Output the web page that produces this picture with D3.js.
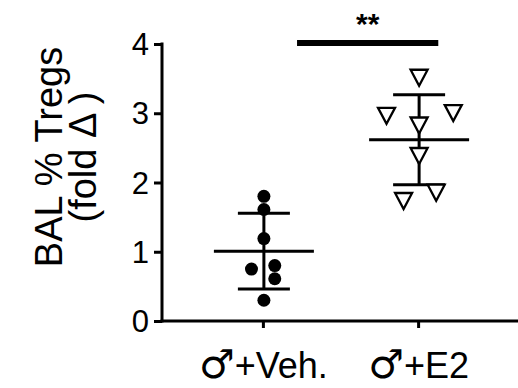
<!DOCTYPE html>
<html><head><meta charset="utf-8">
<script src="https://cdn.jsdelivr.net/npm/d3@7"></script>
<style>body{margin:0;background:#fff}svg{display:block}text{font-family:"Liberation Sans",Arial,sans-serif}</style>
</head><body>
<svg id="c" width="518" height="388"></svg>
<script>
const categories = ["♂+Veh.", "♂+E2"];
const vehValues = [1.80, 1.61, 1.19, 0.80, 0.75, 0.61, 0.30];
const e2Values = [3.52, 3.01, 2.97, 2.83, 2.39, 1.86, 1.74];
const vehJitter = [0, 0, 0, 0.07, -0.08, 0.07, 0];
const e2Jitter = [0, 0.22, -0.21, 0, 0, 0.11, -0.10];
const yTicks = [0, 1, 2, 3, 4];
const sigLabel = "**";
const sigLevel = 4.0;

const svg = d3.select("#c");
const y = d3.scaleLinear().domain([0, 4]).range([321, 44]);
const x = d3.scalePoint().domain(categories).range([162, 519]).padding(0.65);
const step = x.step();

// axes
const yAxis = svg.append("g").attr("transform", "translate(162,0)")
  .call(d3.axisLeft(y).tickValues(yTicks).tickSize(8).tickPadding(5).tickFormat(d3.format("d")));
yAxis.attr("font-size", null).attr("font-family", null);
yAxis.select(".domain").attr("stroke-width", 3).attr("d", `M0,${y(4)-1.5}V${y(0)+1.5}`);
yAxis.selectAll(".tick line").attr("stroke-width", 3);
yAxis.selectAll(".tick text").attr("font-size", 31).style("font-size", "31px").attr("fill", "#000").attr("dy", "0.34em");

const xAxis = svg.append("g").attr("transform", `translate(0,${y(0)})`)
  .call(d3.axisBottom(x).tickSize(7).tickPadding(5));
xAxis.attr("font-size", null).attr("font-family", null);
xAxis.select(".domain").attr("stroke-width", 3).attr("d", `M160.5,0H518`);
xAxis.selectAll(".tick line").attr("stroke-width", 3);
xAxis.selectAll(".tick text").attr("fill", "#000").attr("dy", null).attr("y", 57)
  .style("font-size", "36px").text(null)
  .each(function(d) {
    const t = d3.select(this);
    t.append("tspan").style("font-family", "DejaVu Sans").style("font-weight", "bold").style("font-size", "40px").text(d.slice(0, 1));
    t.append("tspan").text(d.slice(1));
  });

// y title
svg.append("text").attr("transform", `translate(62,157) rotate(-90)`).attr("text-anchor", "middle")
  .style("font-size", "38px").text("BAL % Tregs");
svg.append("text").attr("transform", `translate(96,157) rotate(-90)`).attr("text-anchor", "middle")
  .style("font-size", "38px").text("(fold Δ )");

const groups = [
  {cat: categories[0], vals: vehValues, jit: vehJitter, shape: "dot"},
  {cat: categories[1], vals: e2Values, jit: e2Jitter, shape: "tri"}
];

groups.forEach(g => {
  const cx = x(g.cat) + 1;
  const m = d3.mean(g.vals), sd = d3.deviation(g.vals);
  const gg = svg.append("g").attr("stroke", "#000").attr("stroke-width", 3);
  gg.append("line").attr("x1", cx).attr("x2", cx).attr("y1", y(m + sd)).attr("y2", y(m - sd));
  gg.append("line").attr("x1", cx - 50).attr("x2", cx + 50).attr("y1", y(m)).attr("y2", y(m));
  [m + sd, m - sd].forEach(v => gg.append("line").attr("x1", cx - 26).attr("x2", cx + 26).attr("y1", y(v)).attr("y2", y(v)));
  const pts = svg.append("g");
  g.vals.forEach((v, i) => {
    const px = cx + g.jit[i] * step, py = y(v);
    if (g.shape === "dot") {
      pts.append("circle").attr("cx", px).attr("cy", py).attr("r", 6.5).attr("fill", "#000");
    } else {
      const w = 8.5, h = 7.5;
      pts.append("path").attr("d", `M${px-w},${py-h}L${px+w},${py-h}L${px},${py+h+1}Z`)
        .attr("fill", "#fff").attr("stroke", "#000").attr("stroke-width", 2.3).attr("stroke-linejoin", "miter");
    }
  });
});

// significance
const sx1 = x(categories[0]) + step * 0.22, sx2 = x(categories[1]) + step * 0.13;
svg.append("line").attr("x1", sx1).attr("x2", sx2).attr("y1", y(sigLevel) - 1).attr("y2", y(sigLevel) - 1)
  .attr("stroke", "#000").attr("stroke-width", 6);
svg.append("text").attr("x", (sx1 + sx2) / 2).attr("y", 34).attr("text-anchor", "middle")
  .style("font-size", "30px").attr("font-weight", "bold").text(sigLabel);
</script>
</body></html>
